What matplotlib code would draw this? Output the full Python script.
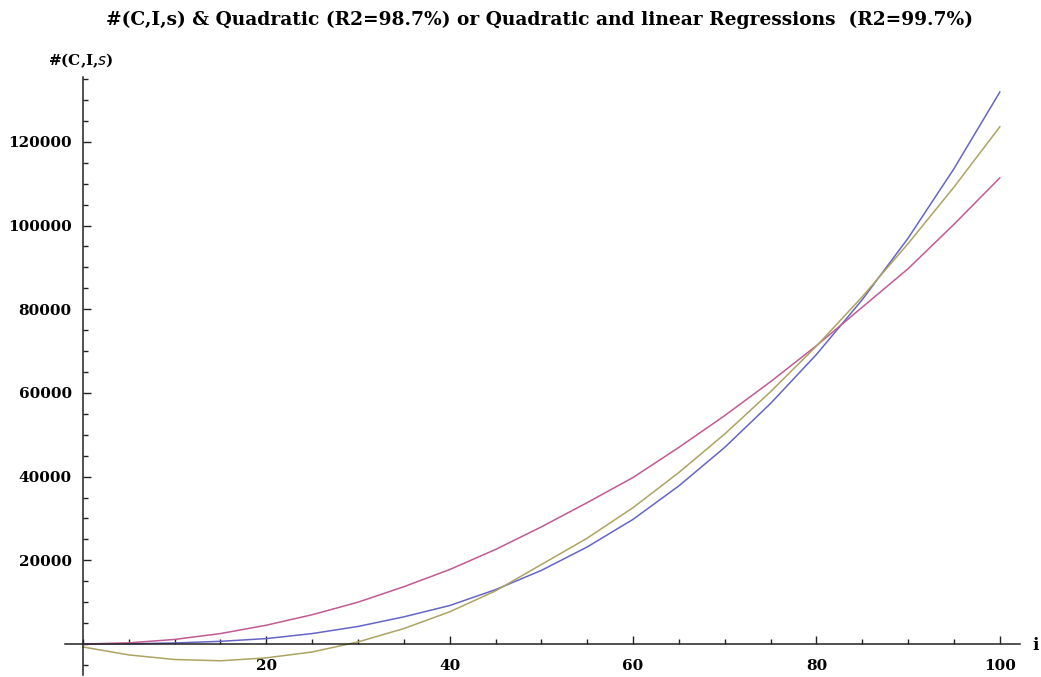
"""
Count of #(C,I,s) against i, with the quadratic fit and the
quadratic + linear fit drawn over it (Mathematica style axes).
"""
import matplotlib
matplotlib.use("Agg")
import matplotlib.pyplot as plt
from matplotlib.ticker import MultipleLocator, FixedLocator

# values, every 5 steps of i
i_vals = [0, 5, 10, 15, 20, 25, 30, 35, 40, 45, 50,
          55, 60, 65, 70, 75, 80, 85, 90, 95, 100]
count_cis = [0, 60, 250, 650, 1300, 2500, 4200, 6500, 9200, 13000, 17600,
             23200, 29800, 37800, 47000, 57500, 69200, 82300, 97000, 113600, 131900]
quadratic = [0, 280, 1100, 2500, 4500, 7000, 10000, 13700, 17800, 22600, 28000,
             33800, 39800, 47000, 54600, 62700, 71300, 80500, 89700, 100300, 111400]
quad_linear = [-700, -2600, -3700, -4000, -3300, -1900, 500, 3700, 7700, 12700, 19000,
               25300, 32600, 41000, 50200, 60300, 71200, 83000, 95700, 109200, 123600]

x_labels = [20, 40, 60, 80, 100]
y_labels = [20000, 40000, 60000, 80000, 100000, 120000]

TITLE = "#(C,I,s) & Quadratic (R2=98.7%) or Quadratic and linear Regressions  (R2=99.7%)"
SERIF = ["DejaVu Serif", "Liberation Serif"]


def main():
    W, H = 1041, 677
    fig = plt.figure(figsize=(W / 100, H / 100), dpi=100)
    ax = fig.add_axes([65 / W, 1 - 675 / H, 955 / W, 598 / H])

    ax.plot(i_vals, count_cis, color="#6565c8", lw=1.1)
    ax.plot(i_vals, quadratic, color="#c25a93", lw=1.1)
    ax.plot(i_vals, quad_linear, color="#ada362", lw=1.1)

    ax.set_xlim(-1.96, 102.2)
    ax.set_ylim(-7400, 135500)

    for side in ["top", "right"]:
        ax.spines[side].set_visible(False)
    ax.spines["left"].set_position(("data", 0))
    ax.spines["bottom"].set_position(("data", 0))
    for side in ["left", "bottom"]:
        ax.spines[side].set_color("#222222")
        ax.spines[side].set_linewidth(1.1)

    ax.xaxis.set_major_locator(FixedLocator(x_labels))
    ax.xaxis.set_minor_locator(MultipleLocator(5))
    ax.yaxis.set_major_locator(FixedLocator(y_labels))
    ax.yaxis.set_minor_locator(MultipleLocator(5000))
    ax.tick_params(which="major", direction="in", length=6, width=1.0,
                   color="#222222", labelsize=11, pad=8)
    ax.tick_params(axis="x", which="major", pad=11)
    ax.tick_params(which="minor", direction="in", length=3.3, width=1.0,
                   color="#222222")
    for lab in ax.get_xticklabels() + ax.get_yticklabels():
        lab.set_family(SERIF)
        lab.set_fontweight("bold")

    fig.text(540 / W, 1 - 20 / H, TITLE, ha="center", va="center",
             family=SERIF, fontweight="bold", fontsize=13.4)
    fig.text(81 / W, 1 - 61 / H, r"#(C,I,$\mathbf{\mathit{s}}$)", ha="center", va="center",
             family=SERIF, fontweight="bold", fontsize=11)
    fig.text(1036 / W, 1 - 645 / H, "i", ha="center", va="center",
             family=SERIF, fontweight="bold", fontsize=12)

    fig.savefig("out.png", dpi=100)


if __name__ == "__main__":
    main()
